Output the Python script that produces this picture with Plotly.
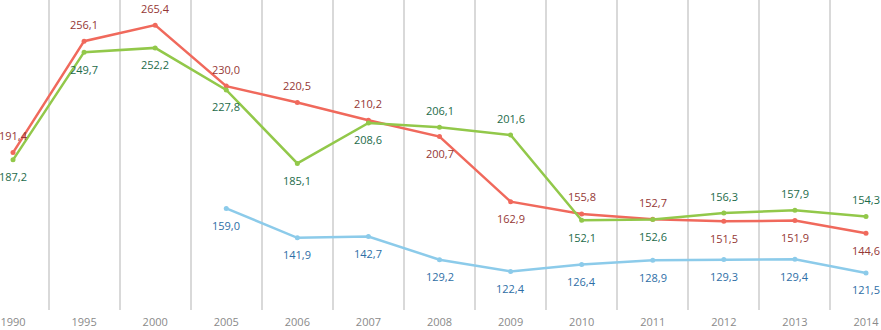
import plotly.graph_objects as go

years = ["1990", "1995", "2000", "2005", "2006", "2007", "2008", "2009", "2010", "2011", "2012", "2013", "2014"]
red_vals = [191.4, 256.1, 265.4, 230.0, 220.5, 210.2, 200.7, 162.9, 155.8, 152.7, 151.5, 151.9, 144.6]
green_vals = [187.2, 249.7, 252.2, 227.8, 185.1, 208.6, 206.1, 201.6, 152.1, 152.6, 156.3, 157.9, 154.3]
blue_vals = [None, None, None, 159.0, 141.9, 142.7, 129.2, 122.4, 126.4, 128.9, 129.3, 129.4, 121.5]

# label side: +1 above, -1 below
red_side = [1, 1, 1, 1, 1, 1, -1, -1, 1, 1, -1, -1, -1]
green_side = [-1, -1, -1, -1, -1, -1, 1, 1, -1, -1, 1, 1, 1]
blue_side = [-1] * 13

idx = list(range(len(years)))

series = [
    (red_vals, red_side, "#f0695c", "#953735"),
    (green_vals, green_side, "#92c84a", "#1d6b4a"),
    (blue_vals, blue_side, "#8ccbea", "#2e6ea6"),
]

fig = go.Figure()
annotations = []
for vals, sides, lc, tc in series:
    fig.add_trace(go.Scatter(
        x=idx, y=vals, mode="lines+markers",
        line=dict(color=lc, width=2.5),
        marker=dict(color=lc, size=5),
        connectgaps=False, showlegend=False, hoverinfo="skip",
    ))
    for i, v in enumerate(vals):
        if v is None:
            continue
        annotations.append(dict(
            x=i, y=v, xref="x", yref="y",
            text=f"{v:.1f}".replace(".", ","),
            showarrow=False, yshift=17 * sides[i],
            font=dict(family="Open Sans", size=11, color=tc),
        ))

fig.update_layout(
    width=881, height=330,
    margin=dict(l=0, r=0, t=0, b=20),
    paper_bgcolor="white", plot_bgcolor="white",
    annotations=annotations,
    font=dict(family="Open Sans", size=11, color="#808080"),
    xaxis=dict(
        range=[-0.183, 12.211],
        tickvals=idx, ticktext=years,
        showgrid=False, zeroline=False, showline=False, ticks="",
        automargin=False, ticklabelstandoff=4,
        minor=dict(tick0=0.5, dtick=1, showgrid=True, gridcolor="#d9d9d9", gridwidth=1.5, ticks=""),
        tickfont=dict(family="Open Sans", size=11, color="#8a8a8a"),
    ),
    yaxis=dict(
        range=[100, 280], visible=False, showgrid=False, zeroline=False,
    ),
)

fig.write_html(
    "out.html",
    config={"displayModeBar": False},
    post_script="document.body.style.margin='0px';document.body.style.overflow='hidden';",
)
